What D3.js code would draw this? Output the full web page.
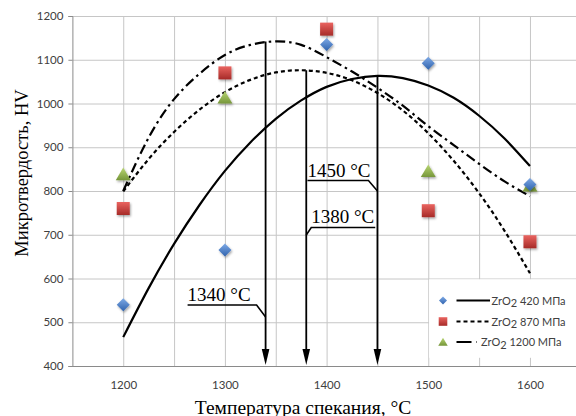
<!DOCTYPE html>
<html>
<head>
<meta charset="utf-8">
<script src="https://cdn.jsdelivr.net/npm/d3@7"></script>
<style>
  body { margin: 0; background: #fff; }
  svg { display: block; }
</style>
</head>
<body>
<svg id="chart" width="576" height="416"></svg>
<script>
// Sintering temperature, °C, and measured microhardness HV for each ZrO2 pressing pressure
const temps = [1200, 1300, 1400, 1500, 1600];
const hv420 = [540, 665, 1135, 1092, 815];
const hv870 = [760, 1070, 1170, 755, 684];
const hv1200 = [838, 1013, null, 845, 812];

// Trend curves sampled every 25 °C
const trendT = [1200, 1225, 1250, 1275, 1300, 1325, 1350, 1375, 1400,
                1425, 1450, 1475, 1500, 1525, 1550, 1575, 1600];
const trend420 = [466, 578, 679, 768, 846, 911, 965, 1007, 1038,
                  1056, 1063, 1058, 1041, 1013, 972, 920, 857];
const trend870 = [799, 873, 935, 986, 1026, 1054, 1071, 1076, 1070,
                  1053, 1024, 984, 932, 869, 795, 709, 612];
const trend1200 = [800, 922, 1010, 1068, 1111, 1134, 1142, 1134, 1106,
                   1073, 1036, 995, 948, 905, 862, 822, 788];

// Peak temperatures marked with arrows, and the HV where each arrow starts
const peakTemps = [1340, 1380, 1450];
const peakHV = [1142, 1076, 1063];

const xTicks = [1200, 1300, 1400, 1500, 1600];
const yTicks = [400, 500, 600, 700, 800, 900, 1000, 1100, 1200];
const seriesLabels = ["420 МПа", "870 МПа", "1200 МПа"];
const xTitle = "Температура спекания, °С";
const yTitle = "Микротвердость, HV";

const svg = d3.select("#chart");

const x = d3.scaleLinear().domain([1150, 1650]).range([72.4, 580.8]);
const y = d3.scaleLinear().domain([400, 1200]).range([366, 16]);

const defs = svg.append("defs");
function grad(id, top, bottom) {
  const g = defs.append("linearGradient").attr("id", id)
    .attr("x1", 0).attr("y1", 0).attr("x2", 0).attr("y2", 1);
  g.append("stop").attr("offset", "0%").attr("stop-color", top);
  g.append("stop").attr("offset", "100%").attr("stop-color", bottom);
}
grad("gBlue", "#7eaae6", "#2f62ad");
grad("gRed", "#ea6460", "#a62b28");
grad("gGreen", "#b8d672", "#76963a");
const sh = defs.append("filter").attr("id", "shadow")
  .attr("x", "-50%").attr("y", "-50%").attr("width", "200%").attr("height", "200%");
sh.append("feDropShadow").attr("dx", 1).attr("dy", 1.5)
  .attr("stdDeviation", 1).attr("flood-color", "#000").attr("flood-opacity", 0.35);

// Grid
const gridColor = "#c6c6c6";
svg.append("g")
  .attr("transform", `translate(0,${y(400)})`)
  .call(d3.axisBottom(x).tickValues(d3.range(1200, 1651, 50)).tickSize(-(y(400) - y(1200))).tickFormat(""))
  .call(g => g.select(".domain").remove())
  .call(g => g.selectAll("line").attr("stroke", gridColor).attr("stroke-width", 1));
svg.append("g")
  .attr("transform", `translate(${x(1150)},0)`)
  .call(d3.axisLeft(y).tickValues(yTicks.slice(1)).tickSize(-(x(1650) - x(1150))).tickFormat(""))
  .call(g => g.select(".domain").remove())
  .call(g => g.selectAll("line").attr("stroke", gridColor).attr("stroke-width", 1));

// Axes
const axisColor = "#8a8a8a";
const tickFont = "Lato, 'Open Sans', sans-serif";
svg.append("g")
  .attr("transform", `translate(${x(1150)},0)`)
  .call(d3.axisLeft(y).tickValues(yTicks).tickSize(4).tickPadding(5).tickFormat(d3.format("d")))
  .call(g => g.select(".domain").attr("stroke", axisColor))
  .call(g => g.selectAll("line").attr("stroke", axisColor))
  .call(g => g.selectAll("text").attr("fill", "#404040")
    .style("font-family", tickFont).style("font-size", "11.5px"));
svg.append("g")
  .attr("transform", `translate(0,${y(400)})`)
  .call(d3.axisBottom(x).tickValues(xTicks).tickSize(0).tickPadding(15).tickFormat(d3.format("d")))
  .call(g => g.select(".domain").attr("stroke", axisColor).attr("d", `M${x(1150)},0.5H${x(1650)}`))
  .call(g => g.selectAll("text").attr("fill", "#404040")
    .style("font-family", tickFont).style("font-size", "11.5px"));

// Axis titles
const serif = "'Liberation Serif', 'Times New Roman', serif";
svg.append("text")
  .attr("transform", `translate(28,${173}) rotate(-90)`)
  .attr("text-anchor", "middle")
  .style("font-family", serif).style("font-size", "18.5px")
  .text(yTitle);
svg.append("text")
  .attr("x", 303).attr("y", 413.5)
  .attr("text-anchor", "middle")
  .style("font-family", serif).style("font-size", "19.5px")
  .text(xTitle);

// Trend curves
const styles = [
  { dash: null },
  { dash: "4,3" },
  { dash: "10,4,2.5,4" }
];
const trends = [trend420, trend870, trend1200];
const line = d3.line()
  .x(d => x(d[0])).y(d => y(d[1]))
  .curve(d3.curveNatural);
trends.forEach((vals, i) => {
  svg.append("path")
    .datum(trendT.map((t, k) => [t, vals[k]]))
    .attr("d", line)
    .attr("fill", "none")
    .attr("stroke", "#000")
    .attr("stroke-width", 2.2)
    .attr("stroke-dasharray", styles[i].dash);
});

// Markers
function diamond(r) { return `M0,${-r}L${r},0L0,${r}L${-r},0Z`; }
function square(r) { return `M${-r},${-r}H${r}V${r}H${-r}Z`; }
function triangle(r) { return `M0,${-r}L${r * 1.1},${r * 0.85}L${-r * 1.1},${r * 0.85}Z`; }
const markerDefs = [
  { path: diamond, fill: "url(#gBlue)", r: 6.5, vals: hv420 },
  { path: square, fill: "url(#gRed)", r: 6.5, vals: hv870 },
  { path: triangle, fill: "url(#gGreen)", r: 6.8, vals: hv1200 }
];
[2, 1, 0].forEach(i => {
  const m = markerDefs[i];
  svg.append("g").selectAll("path")
    .data(temps.map((t, k) => [t, m.vals[k]]).filter(d => d[1] != null))
    .join("path")
    .attr("transform", d => `translate(${x(d[0])},${y(d[1])})`)
    .attr("d", m.path(m.r))
    .attr("fill", m.fill)
    .attr("filter", "url(#shadow)");
});

// Peak arrows with callout labels
const callouts = [
  { tx: -78, ty: 300.5, ux0: -78, ux1: -9, uy: 305, ly: 317, from: "right" },
  { tx: 5, ty: 223, ux0: 5, ux1: 69, uy: 227.5, ly: 235, from: "left" },
  { tx: -70, ty: 176.5, ux0: -70, ux1: -9, uy: 180.5, ly: 191, from: "right" }
];
const ann = svg.append("g");
peakTemps.forEach((t, i) => {
  const ax = x(t);
  const c = callouts[i];
  const tipY = y(400) - 1;
  ann.append("line")
    .attr("x1", ax).attr("x2", ax)
    .attr("y1", y(peakHV[i])).attr("y2", tipY - 14)
    .attr("stroke", "#000").attr("stroke-width", 1.8);
  ann.append("path")
    .attr("d", `M${ax - 3.8},${tipY - 16}L${ax + 3.8},${tipY - 16}L${ax},${tipY}Z`)
    .attr("fill", "#000");
  ann.append("text")
    .attr("x", ax + c.tx).attr("y", c.ty)
    .style("font-family", serif).style("font-size", "19px")
    .text(`${t} °C`);
  ann.append("path")
    .attr("d", c.from === "right"
      ? `M${ax + c.ux0},${c.uy}H${ax + c.ux1}L${ax},${c.ly}`
      : `M${ax + c.ux1},${c.uy}H${ax + c.ux0}L${ax},${c.ly}`)
    .attr("fill", "none").attr("stroke", "#000").attr("stroke-width", 1.6);
});

// Legend
const leg = svg.append("g");
leg.append("rect")
  .attr("x", x(1500) + 0.8).attr("y", y(600) + 0.8)
  .attr("width", 600 - x(1500)).attr("height", 357 - y(600))
  .attr("fill", "#fff");
const rowsY = [300.5, 321.5, 342];
const legLine = [[456.5, 490], [456.5, 490], [456.5, 477]];
const legText = [491.5, 491.5, 481];
const legDash = [null, "4,3", "15,5,2,10"];
seriesLabels.forEach((lab, i) => {
  const m = markerDefs[i];
  const ry = rowsY[i];
  leg.append("path")
    .attr("transform", `translate(443,${ry})`)
    .attr("d", m.path(i === 0 ? 4 : 4.3))
    .attr("fill", m.fill);
  leg.append("line")
    .attr("x1", legLine[i][0]).attr("x2", legLine[i][1])
    .attr("y1", ry).attr("y2", ry)
    .attr("stroke", "#000").attr("stroke-width", 1.8)
    .attr("stroke-dasharray", legDash[i]);
  const tx = leg.append("text")
    .attr("x", legText[i]).attr("y", ry + 4)
    .attr("fill", "#404040")
    .style("font-family", tickFont).style("font-size", "11px");
  tx.append("tspan").text("ZrO");
  tx.append("tspan").attr("dy", 2.5).text("2");
  tx.append("tspan").attr("dy", -2.5).text(" " + lab);
});
</script>
</body>
</html>
